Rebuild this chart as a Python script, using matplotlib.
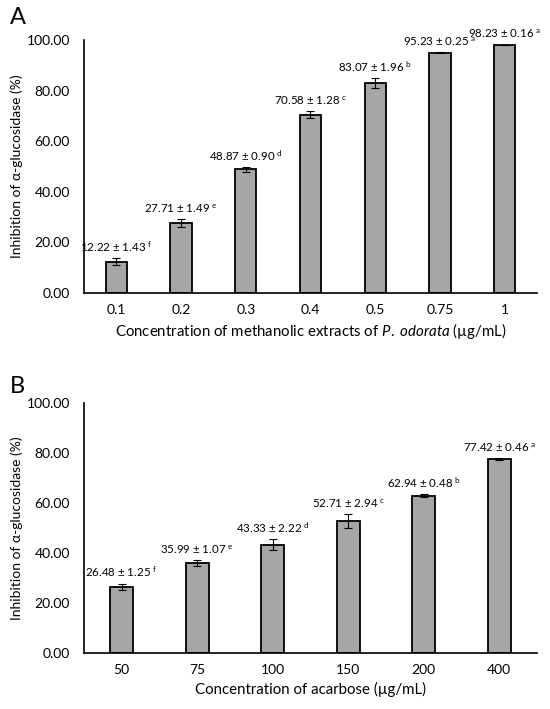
import matplotlib
matplotlib.use("Agg")
import matplotlib.pyplot as plt

plt.rcParams['font.family'] = ['Lato', 'DejaVu Sans']
plt.rcParams['mathtext.fontset'] = 'custom'
plt.rcParams['mathtext.rm'] = 'Lato'
plt.rcParams['mathtext.it'] = 'Lato:italic'

# panel A: methanolic extract of P. odorata
conc_a = ['0.1', '0.2', '0.3', '0.4', '0.5', '0.75', '1']
inhib_a = [12.22, 27.71, 48.87, 70.58, 83.07, 95.23, 98.23]
err_a = [1.43, 1.49, 0.90, 1.28, 1.96, 0.25, 0.16]
letters_a = ['f', 'e', 'd', 'c', 'b', 'a', 'a']

# panel B: acarbose
conc_b = ['50', '75', '100', '150', '200', '400']
inhib_b = [26.48, 35.99, 43.33, 52.71, 62.94, 77.42]
err_b = [1.25, 1.07, 2.22, 2.94, 0.48, 0.46]
letters_b = ['f', 'e', 'd', 'c', 'b', 'a']

yticks = [0, 20, 40, 60, 80, 100]

fig = plt.figure(figsize=(5.5, 7.09), dpi=100)
ax_a = fig.add_axes([0.1527, 0.5872, 0.8236, 0.3557])
ax_b = fig.add_axes([0.1527, 0.0790, 0.8236, 0.3529])


def draw_panel(ax, cats, vals, errs, letters, xlabel, width):
    x = range(len(cats))
    ax.bar(x, vals, width=width, color='#a6a6a6', edgecolor='black', linewidth=1.3,
           yerr=errs, capsize=3, error_kw=dict(elinewidth=0.8, capthick=0.8, ecolor='black'))
    for i, (v, e, l) in enumerate(zip(vals, errs, letters)):
        ax.annotate('%.2f ± %.2f $^{\\mathrm{%s}}$' % (v, e, l), (i, v + e),
                    xytext=(0, 3), textcoords='offset points',
                    ha='center', va='bottom', fontsize=8.3)
    ax.set_xlim(-0.5, len(cats) - 0.5)
    ax.set_ylim(0, 100)
    ax.set_xticks(list(x))
    ax.set_xticklabels(cats, fontsize=10)
    ax.set_yticks(yticks)
    ax.set_yticklabels(['%.2f' % t for t in yticks], fontsize=10)
    ax.tick_params(length=0, pad=8)
    ax.tick_params(axis='y', pad=10)
    for s in ['top', 'right']:
        ax.spines[s].set_visible(False)
    ax.spines['left'].set_linewidth(1.2)
    ax.spines['bottom'].set_linewidth(1.2)
    ax.set_ylabel('Inhibition of α-glucosidase (%)', fontsize=10, labelpad=3)
    ax.set_xlabel(xlabel, fontsize=10.8, labelpad=4)


draw_panel(ax_a, conc_a, inhib_a, err_a, letters_a,
           'Concentration of methanolic extracts of $\\mathit{P.\\ odorata}$ (µg/mL)', 0.33)
draw_panel(ax_b, conc_b, inhib_b, err_b, letters_b,
           'Concentration of acarbose (µg/mL)', 0.31)

fig.text(0.018, 0.975, 'A', fontsize=17, va='center', ha='left')
fig.text(0.018, 0.455, 'B', fontsize=17, va='center', ha='left')

fig.savefig('out.png', dpi=100)
